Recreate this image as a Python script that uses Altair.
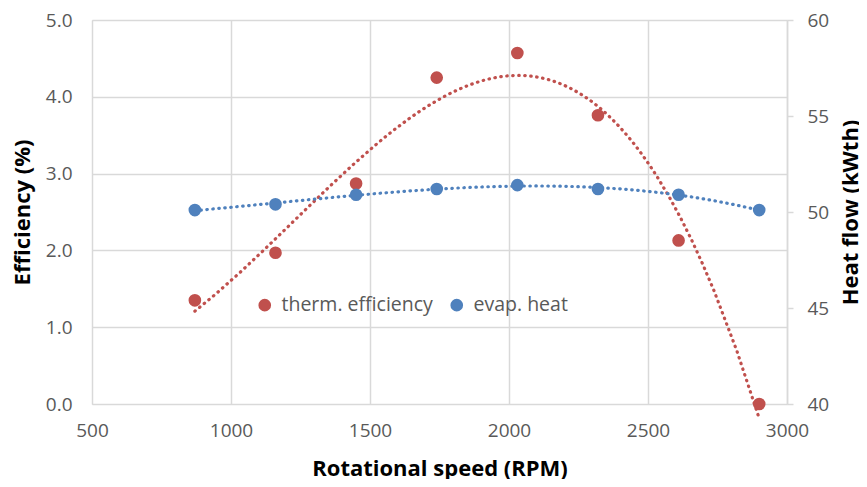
import altair as alt
import pandas as pd

rpm = [870, 1160, 1450, 1740, 2030, 2320, 2610, 2900]
efficiency = [1.35, 1.97, 2.87, 4.25, 4.57, 3.76, 2.13, 0.0]
heat = [50.1, 50.4, 50.9, 51.2, 51.4, 51.2, 50.9, 50.1]
series_names = ["therm. efficiency", "evap. heat"]
series_colors = ["#C0504D", "#4F81BD"]

df = pd.DataFrame({"rpm": rpm, "eff": efficiency, "heat": heat})

FONT = "Open Sans"
GRID = "#D9D9D9"
TXT = "#595959"
LBL = 19
TTL = 22

x_enc = alt.X("rpm:Q", scale=alt.Scale(domain=[500, 3000], nice=False),
              axis=alt.Axis(title="Rotational speed (RPM)", values=[500, 1000, 1500, 2000, 2500, 3000],
                            format="d", labelFlush=False, labelOverlap=False,
                            grid=True, gridColor=GRID, gridWidth=1.5, domain=False, ticks=False,
                            labelFontSize=LBL, labelColor=TXT, labelFont=FONT, labelPadding=17,
                            titleFont=FONT, titleFontSize=TTL, titleFontWeight="bold", titleColor="black",
                            titlePadding=18))

color_scale = alt.Scale(domain=series_names, range=series_colors)

base = alt.Chart(df)

eff_axis = alt.Axis(title="Efficiency (%)", values=[0, 1, 2, 3, 4, 5], format=".1f", grid=True,
                    gridColor=GRID, gridWidth=1.5, domain=False, ticks=False, labelFlush=False,
                    labelFontSize=LBL, labelColor=TXT, labelFont=FONT, labelPadding=20,
                    titleFont=FONT, titleFontSize=TTL, titleFontWeight="bold", titleColor="black",
                    titlePadding=11)
eff_scale = alt.Scale(domain=[0, 5], nice=False)

dots = dict(strokeDash=[0.5, 5.5], strokeWidth=3.2, strokeCap="round")

eff_line = base.transform_regression("rpm", "eff", method="poly", order=3).mark_line(
    color=series_colors[0], **dots
).encode(x=x_enc, y=alt.Y("eff:Q", scale=eff_scale, axis=eff_axis))

legend = alt.Legend(title=None, orient="none", legendX=163, legendY=275,
                    direction="horizontal", symbolType="circle", symbolSize=160,
                    labelFontSize=19.5, labelColor=TXT, labelFont=FONT,
                    columnPadding=14, labelOffset=7)

eff_pts = base.transform_calculate(series="'" + series_names[0] + "'").mark_circle(size=160, opacity=1).encode(
    x=x_enc, y=alt.Y("eff:Q", scale=eff_scale, axis=eff_axis),
    color=alt.Color("series:N", scale=color_scale, legend=legend))

heat_axis = alt.Axis(title="Heat flow (kWth)", orient="right", values=[40, 45, 50, 55, 60], grid=False,
                     domain=True, domainColor=GRID, domainWidth=1.5, ticks=True, tickColor=GRID,
                     tickWidth=1.5, tickSize=6, labelFlush=False,
                     labelFontSize=LBL, labelColor=TXT, labelFont=FONT, labelPadding=14,
                     titleFont=FONT, titleFontSize=TTL, titleFontWeight="bold", titleColor="black",
                     titleAngle=270, titleBaseline="top", titlePadding=12)
heat_scale = alt.Scale(domain=[40, 60], nice=False)

heat_line = base.transform_regression("rpm", "heat", method="poly", order=3).mark_line(
    color=series_colors[1], **dots
).encode(x=x_enc, y=alt.Y("heat:Q", scale=heat_scale, axis=heat_axis))

heat_pts = base.transform_calculate(series="'" + series_names[1] + "'").mark_circle(size=160, opacity=1).encode(
    x=x_enc, y=alt.Y("heat:Q", scale=heat_scale, axis=heat_axis),
    color=alt.Color("series:N", scale=color_scale, legend=legend))

left = alt.layer(eff_line, eff_pts)
right = alt.layer(heat_line, heat_pts)

chart = alt.layer(left, right).resolve_scale(y="independent").properties(
    width=695, height=384,
    autosize=alt.AutoSizeParams(type="none"),
    padding={"left": 84, "top": 12, "right": 72, "bottom": 75},
).configure_view(stroke=None).configure(background="white")

chart.save("out.html", embed_options={"renderer": "svg", "actions": False})
